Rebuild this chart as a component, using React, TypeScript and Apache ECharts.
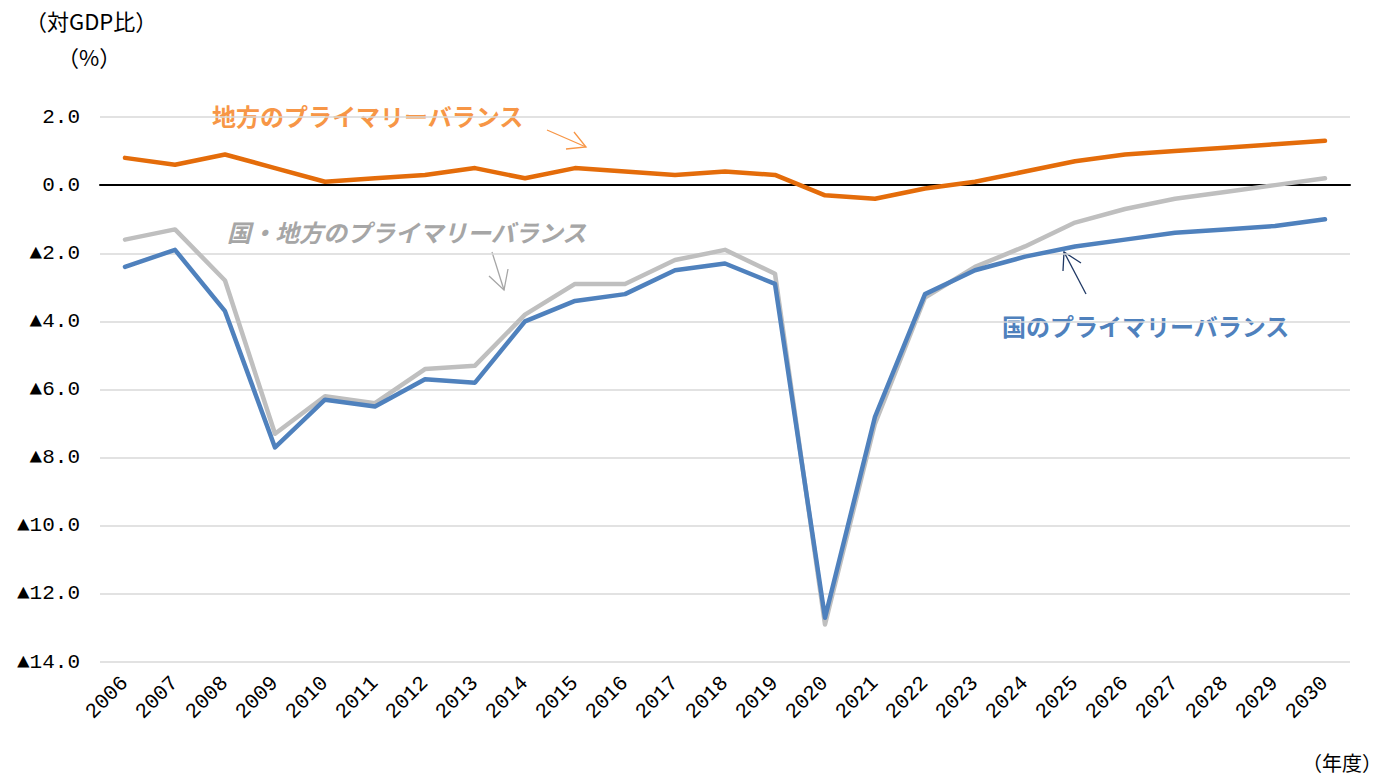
import React, { useEffect, useRef } from "react";
import * as echarts from "echarts";

const years = [
  "2006", "2007", "2008", "2009", "2010", "2011", "2012", "2013", "2014", "2015",
  "2016", "2017", "2018", "2019", "2020", "2021", "2022", "2023", "2024", "2025",
  "2026", "2027", "2028", "2029", "2030",
];

// 地方のプライマリーバランス
const localPB = [
  0.8, 0.6, 0.9, 0.5, 0.1, 0.2, 0.3, 0.5, 0.2, 0.5,
  0.4, 0.3, 0.4, 0.3, -0.3, -0.4, -0.1, 0.1, 0.4, 0.7,
  0.9, 1.0, 1.1, 1.2, 1.3,
];

// 国のプライマリーバランス
const nationalPB = [
  -2.4, -1.9, -3.7, -7.7, -6.3, -6.5, -5.7, -5.8, -4.0, -3.4,
  -3.2, -2.5, -2.3, -2.9, -12.7, -6.8, -3.2, -2.5, -2.1, -1.8,
  -1.6, -1.4, -1.3, -1.2, -1.0,
];

// 国・地方のプライマリーバランス
const combinedPB = [
  -1.6, -1.3, -2.8, -7.3, -6.2, -6.4, -5.4, -5.3, -3.8, -2.9,
  -2.9, -2.2, -1.9, -2.6, -12.9, -7.0, -3.3, -2.4, -1.8, -1.1,
  -0.7, -0.4, -0.2, 0.0, 0.2,
];

const yMin = -14;
const yMax = 2;
const yStep = 2;

const numFont = "'Liberation Mono', 'DejaVu Sans Mono', monospace";
const jpFont = "'Noto Sans CJK JP', 'Noto Sans', sans-serif";

function fmtY(v: number): string {
  if (v < 0) return "▲" + Math.abs(v).toFixed(1);
  return v.toFixed(1);
}

export default function App() {
  const ref = useRef<HTMLDivElement>(null);

  useEffect(() => {
    document.body.style.margin = "0";
    if (!ref.current) return;
    const chart = echarts.init(ref.current, null, { renderer: "svg" });

    const lineBase = { type: "line", symbol: "none", smooth: false };

    chart.setOption({
      animation: false,
      backgroundColor: "#ffffff",
      textStyle: { fontFamily: jpFont },
      grid: { left: 100, right: 40, top: 117, bottom: 113, containLabel: false },
      xAxis: [
        {
          type: "category",
          data: years,
          boundaryGap: true,
          axisLine: { show: false, onZero: false },
          axisTick: { show: false },
          axisLabel: {
            interval: 0,
            rotate: 45,
            margin: 18,
            fontSize: 21,
            color: "#000",
            fontFamily: numFont,
          },
          splitLine: { show: false },
        },
        {
          type: "category",
          data: years,
          boundaryGap: true,
          position: "bottom",
          axisLine: { show: true, onZero: true, lineStyle: { color: "#000", width: 2 } },
          axisTick: { show: false },
          axisLabel: { show: false },
          splitLine: { show: false },
        },
      ],
      yAxis: {
        type: "value",
        min: yMin,
        max: yMax,
        interval: yStep,
        axisLine: { show: false },
        axisTick: { show: false },
        axisLabel: {
          margin: 20,
          fontSize: 21,
          color: "#000",
          fontFamily: numFont,
          formatter: (v: number) => fmtY(v),
        },
        splitLine: { show: true, lineStyle: { color: "#d9d9d9", width: 1.5 } },
      },
      series: [
        {
          ...lineBase,
          name: "国・地方のプライマリーバランス",
          data: combinedPB,
          lineStyle: { color: "#bfbfbf", width: 4.5, cap: "round", join: "round" },
          itemStyle: { color: "#bfbfbf" },
        },
        {
          ...lineBase,
          name: "国のプライマリーバランス",
          data: nationalPB,
          lineStyle: { color: "#4f81bd", width: 4.5, cap: "round", join: "round" },
          itemStyle: { color: "#4f81bd" },
        },
        {
          ...lineBase,
          name: "地方のプライマリーバランス",
          data: localPB,
          lineStyle: { color: "#e46c0a", width: 4.5, cap: "round", join: "round" },
          itemStyle: { color: "#e46c0a" },
        },
      ],
      graphic: [
        {
          type: "text",
          x: 25,
          y: 20,
          style: {
            text: "（対GDP比）",
            fontSize: 22,
            fontFamily: jpFont,
            fill: "#000",
            textAlign: "left",
            textVerticalAlign: "middle",
          },
        },
        {
          type: "text",
          x: 57,
          y: 56,
          style: {
            text: "（%）",
            fontSize: 22,
            fontFamily: jpFont,
            fill: "#000",
            textAlign: "left",
            textVerticalAlign: "middle",
          },
        },
        {
          type: "text",
          x: 1382,
          y: 762,
          style: {
            text: "（年度）",
            fontSize: 20,
            fontFamily: jpFont,
            fill: "#000",
            textAlign: "right",
            textVerticalAlign: "middle",
          },
        },
        {
          type: "text",
          x: 212,
          y: 115,
          style: {
            text: "地方のプライマリーバランス",
            fontSize: 24,
            fontWeight: "bold",
            fontFamily: jpFont,
            fill: "#f79646",
            textAlign: "left",
            textVerticalAlign: "middle",
          },
        },
        {
          type: "text",
          x: 227,
          y: 231,
          style: {
            text: "国・地方のプライマリーバランス",
            fontSize: 24,
            fontWeight: "bold",
            fontStyle: "italic",
            fontFamily: jpFont,
            fill: "#a6a6a6",
            textAlign: "left",
            textVerticalAlign: "middle",
          },
        },
        {
          type: "text",
          x: 1002,
          y: 325,
          style: {
            text: "国のプライマリーバランス",
            fontSize: 24,
            fontWeight: "bold",
            fontFamily: jpFont,
            fill: "#4f81bd",
            textAlign: "left",
            textVerticalAlign: "middle",
          },
        },
        // orange arrow
        {
          type: "line",
          shape: { x1: 547, y1: 130, x2: 586, y2: 147 },
          style: { stroke: "#f79646", lineWidth: 1.3 },
        },
        {
          type: "polyline",
          shape: { points: [[574, 132], [586, 147], [566, 149]] },
          style: { stroke: "#f79646", lineWidth: 1.3, fill: null },
        },
        // gray arrow
        {
          type: "line",
          shape: { x1: 492, y1: 252, x2: 504, y2: 290 },
          style: { stroke: "#a6a6a6", lineWidth: 1.3 },
        },
        {
          type: "polyline",
          shape: { points: [[489, 276], [504, 290], [508, 269]] },
          style: { stroke: "#a6a6a6", lineWidth: 1.3, fill: null },
        },
        // navy arrow
        {
          type: "line",
          shape: { x1: 1086, y1: 294, x2: 1064, y2: 252 },
          style: { stroke: "#1f3864", lineWidth: 1.3 },
        },
        {
          type: "polyline",
          shape: { points: [[1081, 263], [1064, 252], [1063, 271]] },
          style: { stroke: "#1f3864", lineWidth: 1.3, fill: null },
        },
      ],
    });

    return () => {
      chart.dispose();
    };
  }, []);

  return <div ref={ref} style={{ width: 1390, height: 775 }} />;
}
